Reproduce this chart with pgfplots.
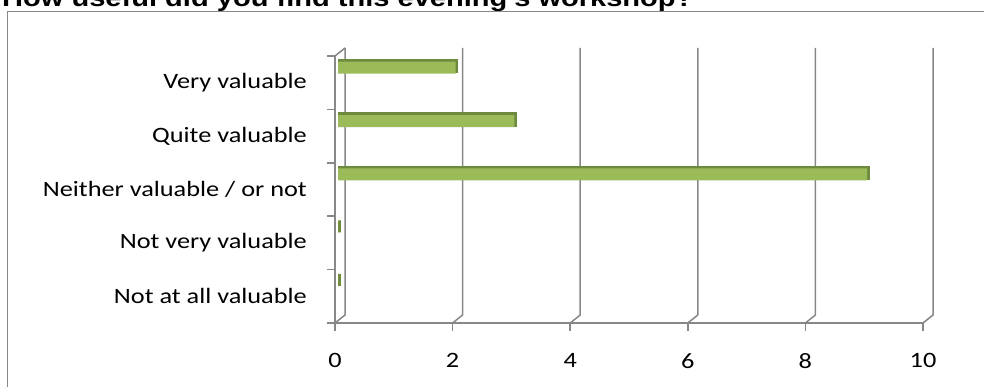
\documentclass[border=0pt]{standalone}
\usepackage{fontspec}
\setmainfont{Carlito}
\newfontfamily\labelfont[FakeStretch=1.2]{Carlito}
\newfontfamily\titlefont[FakeStretch=1.2]{Liberation Sans}
\usepackage{pgfplots}
\pgfplotsset{compat=1.18}
\definecolor{barg}{HTML}{9BBB59}
\definecolor{bard}{HTML}{6E8B3D}
\definecolor{gridc}{HTML}{878787}
\begin{document}
\begin{tikzpicture}
\useasboundingbox (0,0) rectangle (984bp,387bp);
\clip (0,0) rectangle (984bp,387bp);
\node[anchor=base west, inner sep=0pt, font=\titlefont\bfseries\fontsize{24.3}{28}\selectfont] at (2bp,380bp) {How useful did you find this evening's workshop?};
\draw[gridc, line width=1.8bp] (7.5bp,-5bp) rectangle (1000bp,375.5bp);
\begin{axis}[
  at={(335bp,64bp)}, anchor=south west, scale only axis,
  width=588bp, height=267bp,
  xmin=0, xmax=10, ymin=-0.5, ymax=4.5,
  axis x line=bottom, axis y line=left,
  axis line style={gridc, line width=1.5bp, -},
  tick style={gridc, line width=1.5bp},
  tick align=outside,
  major tick length=8bp,
  /pgf/number format/assume math mode=true,
  xtick={0,2,...,10},
  x tick label style={anchor=north, inner sep=0pt, yshift=-22bp, font=\labelfont\fontsize{22}{24}\selectfont},
  ytick={0,...,4},
  ytick style={draw=none},
  yticklabels={Not at all valuable, Not very valuable, Neither valuable / or not, Quite valuable, Very valuable},
  y tick label style={anchor=east, inner sep=0pt, xshift=-20bp, font=\labelfont\fontsize{22}{24}\selectfont},
  xbar, bar width=12bp,
  clip=false,
]
\pgfplotsinvokeforeach{0,2,4,6,8,10}{
  \draw[gridc, line width=1.5bp] (axis cs:#1,-0.5) -- ++(10bp,8bp) -- ([shift={(10bp,8bp)}]axis cs:#1,4.5);
}
\pgfplotsinvokeforeach{-0.5,0.5,1.5,2.5,3.5,4.5}{
  \draw[gridc, line width=1.5bp] (axis cs:0,#1) -- ++(-8bp,0bp);
}
\draw[gridc, line width=1.5bp] (axis cs:0,4.5) -- ++(10bp,8bp);
\addplot[fill=bard, draw=bard, line width=2.5bp, bar shift=16.5bp, xshift=4.5bp] coordinates {(2,4) (3,3) (9,2) (0,1) (0,0)};
\addplot[fill=barg, draw=none, bar shift=15bp, xshift=3bp] coordinates {(2,4) (3,3) (9,2) (0,1) (0,0)};
\end{axis}
\end{tikzpicture}
\end{document}
